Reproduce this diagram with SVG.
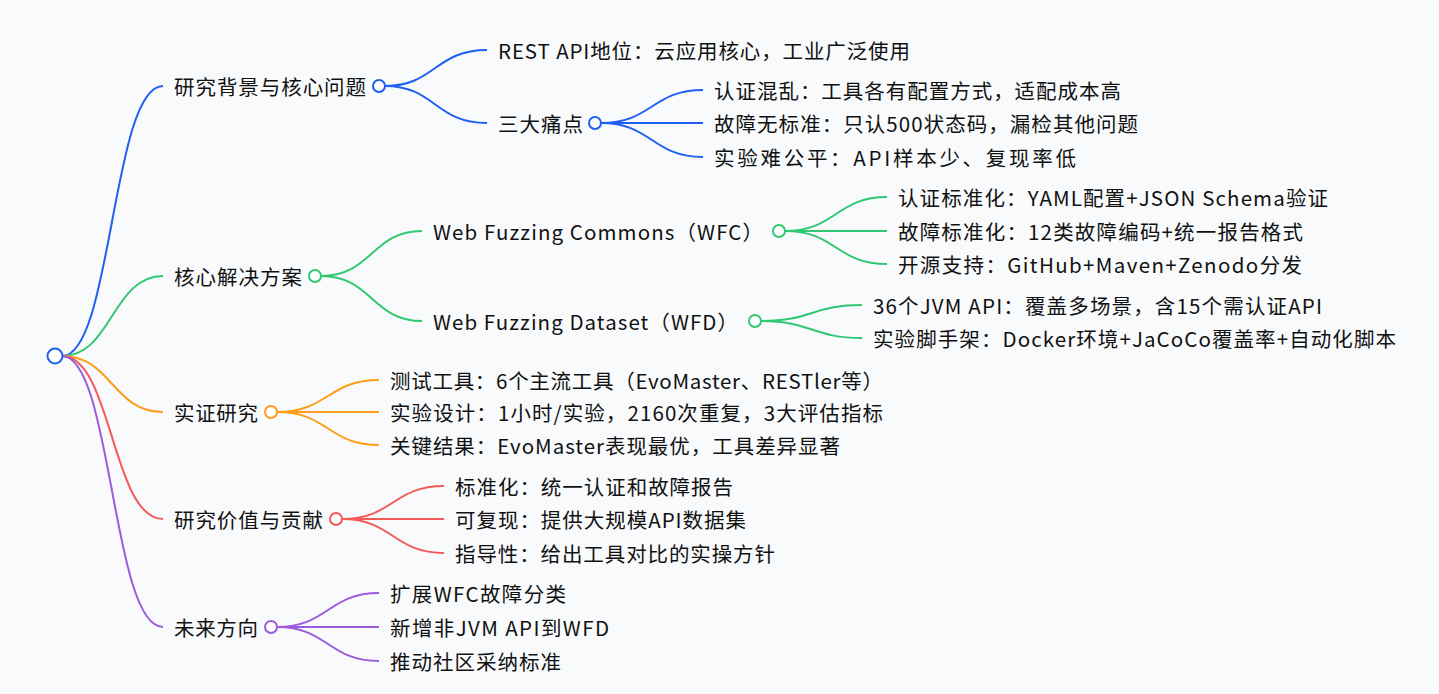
<svg xmlns="http://www.w3.org/2000/svg" width="1439" height="694" viewBox="0 0 1439 694">
<style>
text{font-family:"Noto Sans CJK SC","Noto Sans",sans-serif;font-size:20.5px;fill:#111;dominant-baseline:central}
path{fill:none;stroke-width:2}
circle{fill:#fff;stroke-width:2}
.b{stroke:#1f5ff2}.g{stroke:#30c872}.o{stroke:#ff9d1a}.r{stroke:#f55a5a}.p{stroke:#9b5ddb}
</style>
<rect width="1439" height="694" fill="#f8fafc"/>
<g id="connectors">
<path class="b" d="M62,356 C112,356 112,86 163,86"/>
<path class="g" d="M62,356 C112,356 112,276 163,276"/>
<path class="o" d="M62,356 C112,356 112,412 163,412"/>
<path class="r" d="M62,356 C112,356 112,519 163,519"/>
<path class="p" d="M62,356 C112,356 112,627 163,627"/>
<path class="b" d="M385,86 C435,86 435,50 487,50"/>
<path class="b" d="M385,86 C435,86 435,123 487,123"/>
<path class="b" d="M601,123 C652,123 652,90 703,90"/>
<path class="b" d="M601,123 H703"/>
<path class="b" d="M601,123 C652,123 652,157 703,157"/>
<path class="g" d="M321,276 C372,276 372,231 422,231"/>
<path class="g" d="M321,276 C372,276 372,321 422,321"/>
<path class="g" d="M785,231 C836,231 836,197 887,197"/>
<path class="g" d="M785,231 H887"/>
<path class="g" d="M785,231 C836,231 836,264 887,264"/>
<path class="g" d="M761,321 C812,321 812,305 862,305"/>
<path class="g" d="M761,321 C812,321 812,338 862,338"/>
<path class="o" d="M277,412 C328,412 328,380 379,380"/>
<path class="o" d="M277,412 H379"/>
<path class="o" d="M277,412 C328,412 328,445 379,445"/>
<path class="r" d="M342,519 C393,519 393,486 444,486"/>
<path class="r" d="M342,519 H444"/>
<path class="r" d="M342,519 C393,519 393,553 444,553"/>
<path class="p" d="M277,627 C328,627 328,593 379,593"/>
<path class="p" d="M277,627 H379"/>
<path class="p" d="M277,627 C328,627 328,661 379,661"/>
</g>
<g id="root"><circle class="b" cx="55" cy="356" r="7.5"/></g>
<g id="n1"><text x="174" y="86" textLength="192">研究背景与核心问题</text><circle class="b" cx="379" cy="86" r="6"/></g>
<g id="n1a"><text x="498" y="50" textLength="412">REST API地位：云应用核心，工业广泛使用</text></g>
<g id="n1b"><text x="498" y="123" textLength="85">三大痛点</text><circle class="b" cx="595" cy="123" r="6"/></g>
<g id="n1b1"><text x="714" y="90" textLength="407">认证混乱：工具各有配置方式，适配成本高</text></g>
<g id="n1b2"><text x="714" y="123" textLength="424">故障无标准：只认500状态码，漏检其他问题</text></g>
<g id="n1b3"><text x="714" y="157" textLength="362">实验难公平：API样本少、复现率低</text></g>
<g id="n2"><text x="174" y="276" textLength="128">核心解决方案</text><circle class="g" cx="315" cy="276" r="6"/></g>
<g id="n2a"><text x="433" y="231" textLength="330">Web Fuzzing Commons（WFC）</text><circle class="g" cx="779" cy="231" r="6"/></g>
<g id="n2a1"><text x="898" y="197" textLength="430">认证标准化：YAML配置+JSON Schema验证</text></g>
<g id="n2a2"><text x="898" y="231" textLength="405">故障标准化：12类故障编码+统一报告格式</text></g>
<g id="n2a3"><text x="898" y="264" textLength="404">开源支持：GitHub+Maven+Zenodo分发</text></g>
<g id="n2b"><text x="433" y="321" textLength="305">Web Fuzzing Dataset（WFD）</text><circle class="g" cx="755" cy="321" r="6"/></g>
<g id="n2b1"><text x="873" y="305" textLength="449">36个JVM API：覆盖多场景，含15个需认证API</text></g>
<g id="n2b2"><text x="873" y="338" textLength="523">实验脚手架：Docker环境+JaCoCo覆盖率+自动化脚本</text></g>
<g id="n3"><text x="174" y="412" textLength="84">实证研究</text><circle class="o" cx="271" cy="412" r="6"/></g>
<g id="n3a"><text x="390" y="380" textLength="493">测试工具：6个主流工具（EvoMaster、RESTler等）</text></g>
<g id="n3b"><text x="390" y="412" textLength="493">实验设计：1小时/实验，2160次重复，3大评估指标</text></g>
<g id="n3c"><text x="390" y="445" textLength="450">关键结果：EvoMaster表现最优，工具差异显著</text></g>
<g id="n4"><text x="174" y="519" textLength="149">研究价值与贡献</text><circle class="r" cx="336" cy="519" r="6"/></g>
<g id="n4a"><text x="455" y="486" textLength="278">标准化：统一认证和故障报告</text></g>
<g id="n4b"><text x="455" y="519" textLength="291">可复现：提供大规模API数据集</text></g>
<g id="n4c"><text x="455" y="553" textLength="320">指导性：给出工具对比的实操方针</text></g>
<g id="n5"><text x="174" y="627" textLength="84">未来方向</text><circle class="p" cx="271" cy="627" r="6"/></g>
<g id="n5a"><text x="390" y="593" textLength="176">扩展WFC故障分类</text></g>
<g id="n5b"><text x="390" y="627" textLength="219">新增非JVM API到WFD</text></g>
<g id="n5c"><text x="390" y="661" textLength="171">推动社区采纳标准</text></g>
</svg>
